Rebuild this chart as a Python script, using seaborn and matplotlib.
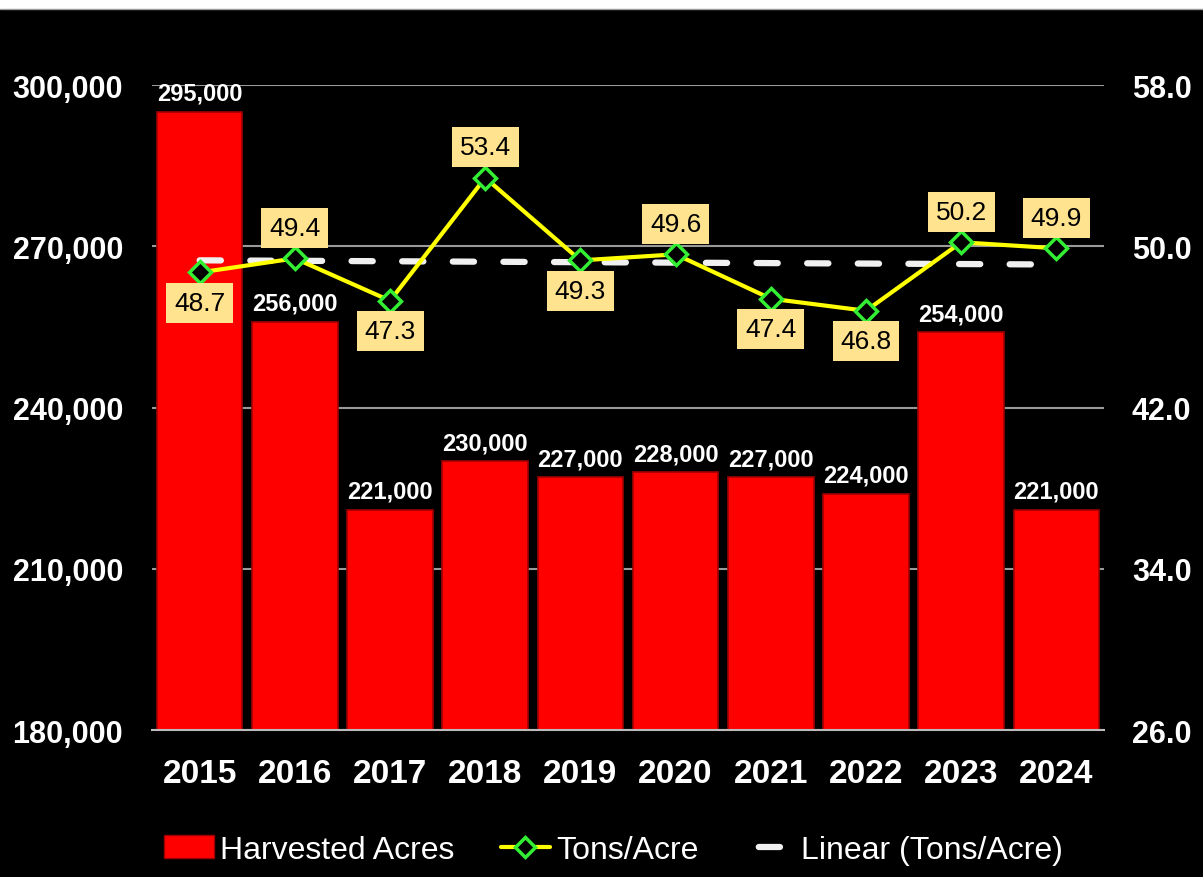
"""
Harvested acres (bars) vs. tons per acre (line + linear trend), 2015-2024.
"""

import numpy as np
import matplotlib.pyplot as plt
import seaborn as sns
from matplotlib.lines import Line2D
from matplotlib.patches import Patch, Rectangle


# ── Data ───────────────────────────────────────────────────────────────────────

years = ['2015', '2016', '2017', '2018', '2019', '2020', '2021', '2022', '2023', '2024']
acres = [295000, 256000, 221000, 230000, 227000, 228000, 227000, 224000, 254000, 221000]
tons_per_acre = [48.7, 49.4, 47.3, 53.4, 49.3, 49.6, 47.4, 46.8, 50.2, 49.9]
label_above = [False, True, False, True, False, True, False, False, True, True]

acre_ticks = [180000, 210000, 240000, 270000, 300000]
tons_ticks = [26.0, 34.0, 42.0, 50.0, 58.0]

# ── Style ──────────────────────────────────────────────────────────────────────

BAR_RED    = '#FF0000'
LINE_YEL   = '#FFFF00'
MARK_GREEN = '#33EE33'
BOX_FILL   = '#FFE38F'
GRID_GREY  = '#9A9A9A'
TREND_WHT  = '#F0F0F0'

sns.set_theme(style='dark', rc={
    'figure.facecolor': 'black',
    'axes.facecolor': 'black',
    'text.color': 'white',
    'xtick.color': 'white',
    'ytick.color': 'white',
})
plt.rcParams['font.family'] = ['Liberation Sans', 'DejaVu Sans']

fig = plt.figure(figsize=(12.03, 8.78), dpi=100)
ax = fig.add_axes([0.1264, 0.1674, 0.9177 - 0.1264, 0.902 - 0.1674])

# ── Bars ───────────────────────────────────────────────────────────────────────

sns.barplot(x=years, y=acres, ax=ax, color=BAR_RED, saturation=1, width=0.9,
            edgecolor='#A00000', linewidth=1.2, zorder=2)
ax.set_ylim(acre_ticks[0], acre_ticks[-1])
ax.set_xlim(-0.5, len(years) - 0.5)
ax.set_yticks(acre_ticks)
ax.set_yticklabels([f'{t:,}' for t in acre_ticks], fontsize=22, fontweight='bold')
ax.tick_params(axis='x', labelsize=24, pad=20, length=0)
ax.tick_params(axis='y', pad=21, length=0)
for lbl in ax.get_xticklabels():
    lbl.set_fontweight('bold')
ax.set_xlabel('')
ax.set_ylabel('')
ax.yaxis.grid(True, color=GRID_GREY, linewidth=1.5, zorder=0)
ax.xaxis.grid(False)
for side in ['left', 'right', 'top']:
    ax.spines[side].set_visible(False)
ax.spines['bottom'].set_color('#BBBBBB')
ax.spines['bottom'].set_linewidth(1.5)

for i, v in enumerate(acres):
    ax.annotate(f'{v:,}', (i, v), xytext=(0, 5), textcoords='offset points',
                ha='center', va='bottom', fontsize=17, fontweight='bold',
                color='white', zorder=3)

# ── Tons/Acre line + linear trend ──────────────────────────────────────────────

ax2 = ax.twinx()
xs = np.arange(len(years))

sns.regplot(x=xs, y=tons_per_acre, ax=ax2, scatter=False, ci=None, truncate=True,
            line_kws=dict(color=TREND_WHT, linewidth=4.5,
                          linestyle=(0, (3.4, 4.7)), dash_capstyle='round', zorder=2))
sns.lineplot(x=xs, y=tons_per_acre, ax=ax2, color=LINE_YEL, linewidth=3,
             marker='D', markersize=11, markerfacecolor='black',
             markeredgecolor=MARK_GREEN, markeredgewidth=2.5, zorder=4)

ax2.set_ylim(tons_ticks[0], tons_ticks[-1])
ax2.set_yticks(tons_ticks)
ax2.set_yticklabels([f'{t:.1f}' for t in tons_ticks], fontsize=22, fontweight='bold')
ax2.tick_params(axis='y', pad=20, length=0, colors='white')
ax2.set_xlim(-0.5, len(years) - 0.5)
ax2.grid(False)
ax2.set_ylabel('')
for side in ['left', 'right', 'top', 'bottom']:
    ax2.spines[side].set_visible(False)

for i, (v, up) in enumerate(zip(tons_per_acre, label_above)):
    ax2.annotate(f'{v:.1f}', (i, v), xytext=(0, 22 if up else -22),
                 textcoords='offset points', ha='center', va='center',
                 fontsize=19, color='black', zorder=5,
                 bbox=dict(boxstyle='square,pad=0.3', fc=BOX_FILL, ec='none'))

# ── Legend ─────────────────────────────────────────────────────────────────────

handles = [
    Patch(facecolor=BAR_RED, edgecolor='#A00000', label='Harvested Acres'),
    Line2D([], [], color=LINE_YEL, linewidth=3, marker='D', markersize=10,
           markerfacecolor='black', markeredgecolor=MARK_GREEN,
           markeredgewidth=2.5, label='Tons/Acre'),
    Line2D([], [], color=TREND_WHT, linewidth=4.5, linestyle=(5.9, (3.4, 4.7)),
           dash_capstyle='round', label='Linear (Tons/Acre)'),
]
fig.legend(handles=handles, loc='center', bbox_to_anchor=(0.51, 0.031), ncol=3,
           frameon=False, fontsize=23, labelcolor='white', handlelength=1.55,
           handletextpad=0.2, columnspacing=1.45)

# white strip at the very top (cropped title area)
fig.add_artist(Rectangle((0, 1 - 10 / 878), 1, 10 / 878, transform=fig.transFigure,
                         facecolor='white', edgecolor='none'))
fig.add_artist(Line2D([0, 1], [1 - 10 / 878] * 2, transform=fig.transFigure,
                      color='#999999', linewidth=1))

fig.savefig('out.png', dpi=100, facecolor='black')
